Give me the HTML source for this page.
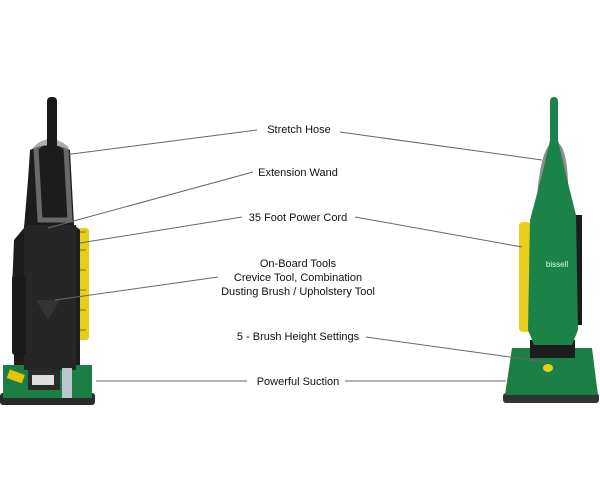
<!DOCTYPE html>
<html><head><meta charset="utf-8"><style>
html,body{margin:0;padding:0;background:#fff;}
svg{display:block}
text{font-family:"Liberation Sans",Arial,sans-serif;font-size:11px;fill:#111;text-anchor:middle}
</style></head><body>
<svg width="600" height="500" viewBox="0 0 600 500">
<!-- LEFT VACUUM -->
<g>
<rect x="0" y="393" width="95" height="12" rx="3" fill="#2a2a2a"/>
<path d="M3 365 L92 365 L92 398 L3 398 Z" fill="#1b7f45"/>
<rect x="8" y="372" width="16" height="9" fill="#e8c400" transform="rotate(20 16 376)"/>
<rect x="75" y="228" width="14" height="112" rx="3" fill="#e6cf1a"/>
<path d="M78 232 L86 232 M78 250 L86 250 M78 270 L86 270 M78 290 L86 290 M78 310 L86 310 M78 330 L86 330" stroke="#b8a000" stroke-width="2"/>
<path d="M30 150 Q50 140 70 150 L74 225 L80 230 L80 365 L14 365 L14 300 L12 290 L14 240 L24 228 L28 180 Z" fill="#1c1c1c"/>
<rect x="24" y="225" width="52" height="145" fill="#262626"/>
<rect x="12" y="275" width="14" height="80" rx="3" fill="#1a1a1a"/>
<path d="M36 148 Q50 135 66 148 L70 220 L40 220 Z" fill="none" stroke="#8a8a8a" stroke-width="5" opacity="0.7"/>
<rect x="47" y="97" width="10" height="55" rx="4" fill="#1a1a1a"/>
<path d="M36 300 L60 300 L48 320 Z" fill="#333"/>
<rect x="28" y="370" width="32" height="20" fill="#2a2a2a"/>
<rect x="32" y="375" width="22" height="10" fill="#ddd"/>
<rect x="62" y="368" width="10" height="30" fill="#b8c6d0"/>
</g>
<!-- RIGHT VACUUM -->
<g>
<rect x="503" y="393" width="96" height="10" rx="3" fill="#333"/>
<path d="M512 348 L592 348 L598 395 L505 395 Z" fill="#1b7f45"/>
<rect x="530" y="340" width="45" height="18" fill="#1c1c1c"/>
<ellipse cx="548" cy="368" rx="5" ry="4" fill="#e6cf1a"/>
<path d="M536 210 Q540 140 556 142 Q570 145 568 210 Z" fill="#8f8f8f"/>
<rect x="519" y="222" width="12" height="110" rx="4" fill="#e6cf1a"/>
<rect x="572" y="215" width="10" height="110" fill="#1c1c1c"/>
<path d="M550 140 L558 140 L566 175 L576 215 L578 330 L572 345 L534 345 L528 330 L530 220 L542 175 Z" fill="#1b8347"/>
<rect x="550" y="97" width="8" height="48" rx="4" fill="#1b8347"/>
<text x="557" y="267" style="font-size:8px;fill:#cfe" >bissell</text>
</g>
<!-- LINES -->
<g stroke="#666" stroke-width="1" fill="none">
<line x1="64" y1="155" x2="257" y2="130"/>
<line x1="340" y1="132" x2="542" y2="160"/>
<line x1="48" y1="228" x2="253" y2="172"/>
<line x1="80" y1="243" x2="242" y2="217"/>
<line x1="355" y1="217" x2="522" y2="247"/>
<line x1="55" y1="300" x2="218" y2="277"/>
<line x1="366" y1="337" x2="546" y2="362"/>
<line x1="96" y1="381" x2="247" y2="381"/>
<line x1="345" y1="381" x2="506" y2="381"/>
</g>
<text x="299" y="133">Stretch Hose</text>
<text x="298" y="176">Extension Wand</text>
<text x="298" y="221">35 Foot Power Cord</text>
<text x="298" y="267">On-Board Tools</text>
<text x="298" y="281">Crevice Tool, Combination</text>
<text x="298" y="295">Dusting Brush / Upholstery Tool</text>
<text x="298" y="340">5 - Brush Height Settings</text>
<text x="298" y="385">Powerful Suction</text>
</svg>
</body></html>
